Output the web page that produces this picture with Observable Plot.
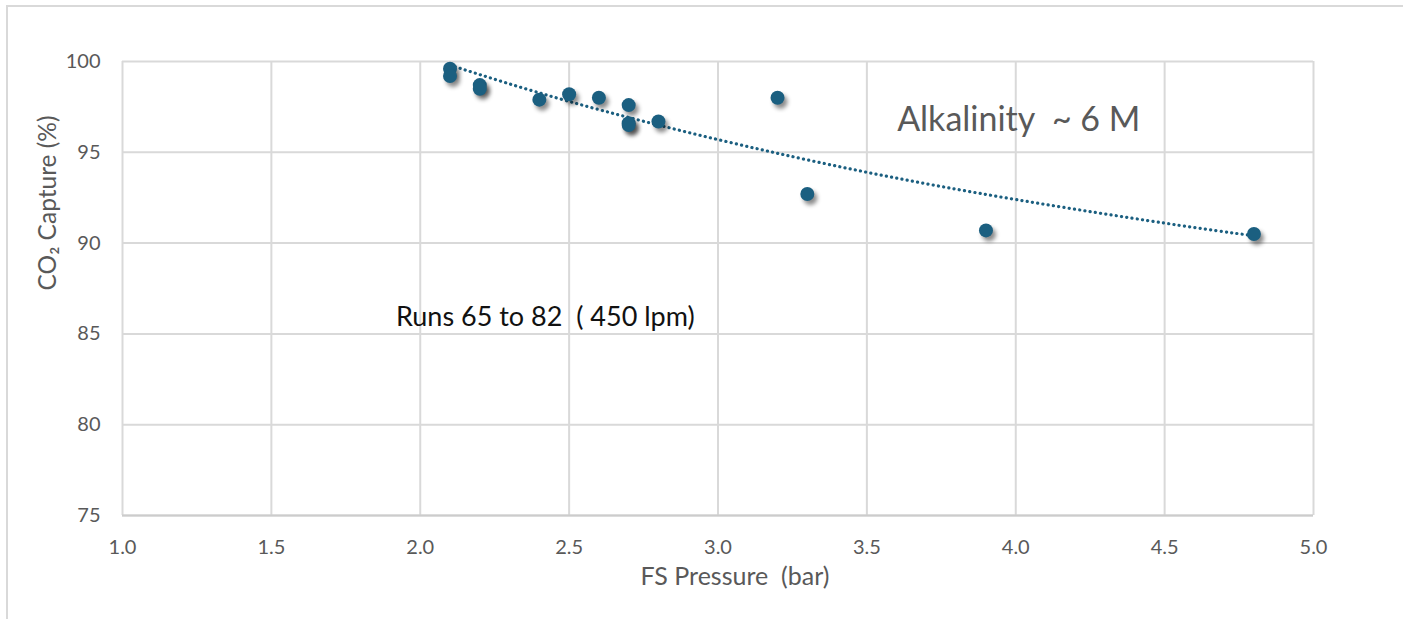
<!DOCTYPE html>
<html>
<head>
<meta charset="utf-8">
<script src="https://cdn.jsdelivr.net/npm/d3@7"></script>
<script src="https://cdn.jsdelivr.net/npm/@observablehq/plot@0.6"></script>
<style>
  html, body { margin: 0; padding: 0; background: #fff; }
  #wrap { position: relative; width: 1403px; height: 619px; overflow: hidden; }
  #frame { position: absolute; left: 6px; top: 5px; right: -2px; bottom: -2px; border-top: 2px solid #d9d9d9; border-left: 2px solid #d9d9d9; pointer-events: none; }
  #chart { position: absolute; left: 0; top: 0; }
  .dots circle { filter: drop-shadow(3px 4px 2px rgba(0,0,0,0.45)); }
</style>
</head>
<body>
<div id="wrap"><div id="chart"></div><div id="frame"></div></div>
<script>
// FS Pressure (bar)
const pressure = [2.1, 2.1, 2.2, 2.2, 2.4, 2.5, 2.6, 2.7, 2.7, 2.7, 2.8, 3.2, 3.3, 3.9, 4.8];
// CO2 Capture (%)
const capture  = [99.6, 99.2, 98.7, 98.5, 97.9, 98.2, 98.0, 97.6, 96.6, 96.5, 96.7, 98.0, 92.7, 90.7, 90.5];

// Trendline values
const trendX = [2.1, 2.5, 3.0, 3.5, 4.0, 4.5, 4.8];
const trendY = [99.8, 97.8, 95.7, 93.9, 92.4, 91.1, 90.4];

const xTicks = [1.0, 1.5, 2.0, 2.5, 3.0, 3.5, 4.0, 4.5, 5.0];
const yTicks = [75, 80, 85, 90, 95, 100];

const annoText = ["Alkalinity  ~ 6 M", "Runs 65 to 82  ( 450 lpm)"];
const annoX = [4.01, 2.42];
const annoY = [96.8, 85.9];

const points = pressure.map((p, i) => ({x: p, y: capture[i]}));
const trend = trendX.map((t, i) => ({x: t, y: trendY[i]}));

const color = "#1b5f80";
const font = "Lato, 'Open Sans', sans-serif";

const chart = Plot.plot({
  width: 1403,
  height: 619,
  marginLeft: 122,
  marginRight: 90,
  marginTop: 61,
  marginBottom: 104,
  style: {fontFamily: font, background: "transparent"},
  x: {domain: [1, 5]},
  y: {domain: [75, 100]},
  marks: [
    Plot.gridX(xTicks, {stroke: "#d9d9d9", strokeOpacity: 1, strokeWidth: 2}),
    Plot.gridY(yTicks, {stroke: "#d9d9d9", strokeOpacity: 1, strokeWidth: 2}),
    Plot.ruleY([75], {stroke: "#cccccc", strokeWidth: 2}),
    Plot.axisX({ticks: xTicks, tickSize: 0, tickPadding: 24, tickFormat: d3.format(".1f"),
      fontSize: 20, color: "#595959", label: null}),
    Plot.axisY({ticks: yTicks, tickSize: 0, tickPadding: 22, fontSize: 20, color: "#595959", label: null}),
    Plot.text(["FS Pressure  (bar)"], {frameAnchor: "bottom", dx: 17, dy: 69, fontSize: 25, fill: "#595959"}),
    Plot.text(["CO₂ Capture (%)"], {frameAnchor: "left", dx: -74, dy: 2, rotate: -90, fontSize: 24.5, fill: "#595959"}),
    Plot.line(trend, {x: "x", y: "y", curve: "natural", stroke: color, strokeWidth: 3.2,
      strokeDasharray: "0.1 5.2", strokeLinecap: "round"}),
    Plot.dot(points, {x: "x", y: "y", r: 7, fill: color, stroke: "none", className: "dots"}),
    Plot.text(annoText.slice(0, 1), {x: annoX.slice(0, 1), y: annoY.slice(0, 1), text: d => d,
      fontSize: 34, fill: "#595959"}),
    Plot.text(annoText.slice(1), {x: annoX.slice(1), y: annoY.slice(1), text: d => d,
      fontSize: 27, fill: "#111111"})
  ]
});
document.getElementById("chart").appendChild(chart);
</script>
</body>
</html>
